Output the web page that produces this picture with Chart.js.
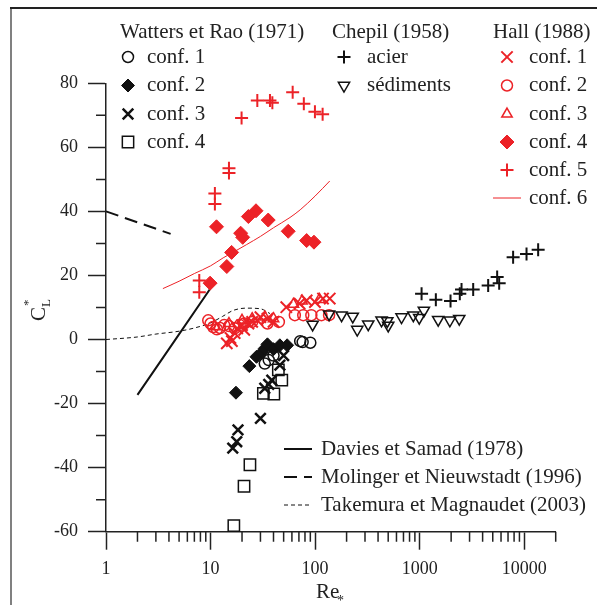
<!DOCTYPE html>
<html>
<head>
<meta charset="utf-8">
<script src="https://cdn.jsdelivr.net/npm/chart.js@4/dist/chart.umd.min.js"></script>
<style>
  body { margin: 0; background: #fff; }
  canvas { display: block; }
</style>
</head>
<body>
<canvas id="chart" width="597" height="605"></canvas>
<script>
// Re* (x) / CL* (y) pairs
const wattersConf1 = [[33, -7.5], [36, -6.4], [40, -5], [72, -0.5], [76, -0.8], [90, -1]];
const wattersConf2 = [[17.5, -16.6], [23.5, -8.3], [27.5, -5.4], [31, -4], [33, -2.8], [35, -1.5], [40, -3], [46, -1.8], [54, -1.8]];
const wattersConf3 = [[16.3, -33.9], [17.8, -31.9], [18.3, -28.2], [30, -24.6], [33, -15.2], [36, -14], [38.5, -12.7], [46, -8], [50, -5]];
const wattersConf4 = [[16.7, -58.1], [20.9, -45.8], [23.8, -39.1], [32, -16.8], [40.3, -17], [44.5, -9.5], [48, -12.7]];

const chepilAcier = [[1043, 14.3], [1428, 12.4], [1973, 12], [2420, 14.3], [2514, 15.6], [3250, 15.6], [4520, 16.9], [5510, 19.5], [5760, 17.6], [7830, 25.7], [10520, 26.7], [13590, 28]];
const chepilSediments = [[94.6, 4.7], [136, 7.9], [179, 7.6], [229, 7.2], [253, 3.1], [322, 4.8], [432, 6], [490, 5.8], [500, 4.4], [671, 7], [869, 7.6], [990, 6.8], [1097, 9.1], [1503, 6.2], [1945, 6], [2390, 6.5]];

const hallConf1 = [[14.3, -1.2], [15.5, 0.5], [16, -0.5], [17, 2], [18, 3.5], [20, 4.5], [21, 3], [23, 5], [25, 5.5], [28, 6], [30, 7], [35, 6.5], [40, 5.5], [53, 10.1], [71, 11.2], [83, 12.2], [99.6, 11.7], [119, 12.8], [138, 12.8]];
const hallConf2 = [[9.5, 6], [10, 5], [10.6, 3.9], [11.5, 3.2], [12.3, 3.6], [13.5, 4.5], [15, 4.2], [17, 3.5], [19, 4.5], [21, 5], [25, 5.5], [35, 5], [45, 5.5], [64, 7.6], [77, 7.6], [92, 7.6], [115, 7.6], [136, 7.6]];
const hallConf3 = [[11, 4], [15, 5], [20, 6], [25, 6.5], [33, 7], [40, 6.5], [62, 11], [75, 12], [110, 12.5]];
const hallConf4 = [[9.9, 17.6], [11.4, 35.2], [14.3, 22.8], [15.9, 27.2], [19.4, 33.2], [20.3, 31.9], [23, 38.4], [27.2, 40.2], [35.6, 37.3], [55.3, 33.8], [83, 30.9], [97.5, 30.4]];
const hallConf5 = [[7.8, 18.4], [7.8, 14.8], [11, 45.6], [11, 42.3], [15, 53.5], [15, 52], [19.8, 69.2], [28, 74.6], [37, 74.6], [39, 73.9], [61, 77.2], [78, 73.6], [99.6, 71.1], [118, 70.3]];
const hallConf6 = [[3.5, 15.9], [5, 18.2], [7, 20.6], [10, 23], [13.2, 25.5], [17, 27.5], [22, 29.6], [30, 32.2], [40, 34.9], [57.5, 38.1], [72, 40.5], [100, 44.8], [138, 49.5]];

const daviesSamad = [[2, -17.3], [10, 16]];
const molingerNieuwstadt = [[1, 40], [4.15, 33]];
const takemuraMagnaudet = [[1, 0], [2, 0.8], [3, 1.7], [5, 2.6], [7, 3.6], [10, 5.2], [13, 7.2], [16.5, 9.1], [22, 9.8], [30, 9.6], [37, 8.1]];

const xMajorTicks = [1, 10, 100, 1000, 10000];
const yMajorTicks = [-60, -40, -20, 0, 20, 40, 60, 80];
const yMinorTicks = [-50, -30, -10, 10, 30, 50, 70];

const RED = '#ec2227';
const INK = '#111';
const FONT = '"Liberation Serif", "Times New Roman", serif';

const pts = arr => arr.map(p => ({ x: p[0], y: p[1] }));

const mark = (label, data, style, color, radius, bw, filled, rotation) => ({
    label, data: pts(data), pointStyle: style, pointRadius: radius, pointHoverRadius: radius,
    pointRotation: rotation || 0, pointBorderWidth: bw, borderColor: color,
    pointBorderColor: color, pointBackgroundColor: filled ? color : 'rgba(0,0,0,0)',
    showLine: false, clip: false
});

const curve = (label, data, color, width, dash) => ({
    label, data: pts(data), borderColor: color, borderWidth: width, borderDash: dash || [],
    pointRadius: 0, pointHoverRadius: 0, showLine: true, cubicInterpolationMode: 'monotone', clip: false
});

const datasets = [
    mark('W conf. 1', wattersConf1, 'circle', INK, 5.5, 1.5, false),
    mark('W conf. 2', wattersConf2, 'rectRot', INK, 6.5, 1, true),
    mark('W conf. 3', wattersConf3, 'crossRot', INK, 7.5, 2.5, false),
    mark('W conf. 4', wattersConf4, 'rect', INK, 8, 1.5, false),
    mark('acier', chepilAcier, 'cross', INK, 6.5, 2, false),
    mark('sédiments', chepilSediments, 'triangle', INK, 6.5, 1.5, false, 180),
    mark('H conf. 1', hallConf1, 'crossRot', RED, 8, 2, false),
    mark('H conf. 2', hallConf2, 'circle', RED, 5.5, 1.5, false),
    mark('H conf. 3', hallConf3, 'triangle', RED, 6, 1.5, false),
    mark('H conf. 4', hallConf4, 'rectRot', RED, 7, 1, true),
    mark('H conf. 5', hallConf5, 'cross', RED, 6.5, 2, false),
    curve('H conf. 6', hallConf6, RED, 1),
    curve('Davies et Samad (1978)', daviesSamad, INK, 2),
    curve('Molinger et Nieuwstadt (1996)', molingerNieuwstadt, INK, 2, [13, 7]),
    curve('Takemura et Magnaudet (2003)', takemuraMagnaudet, INK, 1, [4, 3])
];

// legend groups (symbol style copied from the datasets)
const legendGroups = [
    { title: 'Watters et Rao (1971)', x: 120, symX: 128, textX: 147,
      items: [['conf. 1', 0], ['conf. 2', 1], ['conf. 3', 2], ['conf. 4', 3]] },
    { title: 'Chepil (1958)', x: 332, symX: 344, textX: 367,
      items: [['acier', 4], ['sédiments', 5]] },
    { title: 'Hall (1988)', x: 493, symX: 507, textX: 529,
      items: [['conf. 1', 6], ['conf. 2', 7], ['conf. 3', 8], ['conf. 4', 9], ['conf. 5', 10], ['conf. 6', 11]] }
];
const legendRows = [57, 85.5, 114, 142, 170, 198];
const lineLegend = [[12, 449], [13, 477], [14, 505]];

const decorPlugin = {
    id: 'decor',
    beforeDraw(chart) {
        const ctx = chart.ctx;
        ctx.save();
        ctx.lineWidth = 2;
        ctx.strokeStyle = '#808080';
        ctx.beginPath(); ctx.moveTo(11, 8); ctx.lineTo(11, 605); ctx.stroke();
        ctx.strokeStyle = '#222';
        ctx.beginPath(); ctx.moveTo(10, 8); ctx.lineTo(597, 8); ctx.stroke();
        ctx.restore();
    },
    afterDraw(chart) {
        const ctx = chart.ctx;
        const xs = chart.scales.x, ys = chart.scales.y;
        const area = chart.chartArea;
        ctx.save();
        // minor ticks
        ctx.strokeStyle = '#222';
        ctx.lineWidth = 1.5;
        ctx.beginPath();
        for (let d = 1; d <= 10000; d *= 10) {
            for (let m = 2; m <= 9; m++) {
                const v = d * m;
                if (v > 20000) break;
                const px = xs.getPixelForValue(v);
                ctx.moveTo(px, area.bottom); ctx.lineTo(px, area.bottom + 10);
            }
        }
        yMinorTicks.forEach(v => {
            const py = ys.getPixelForValue(v);
            ctx.moveTo(area.left - 10, py); ctx.lineTo(area.left, py);
        });
        ctx.stroke();

        // axis titles
        ctx.fillStyle = '#222';
        ctx.textBaseline = 'alphabetic';
        ctx.textAlign = 'left';
        ctx.font = '21px ' + FONT;
        ctx.fillText('Re', 316, 598);
        ctx.font = '14px ' + FONT;
        ctx.fillText('*', 337, 605);

        ctx.save();
        ctx.translate(45, 321);
        ctx.rotate(-Math.PI / 2);
        ctx.font = '21px ' + FONT;
        ctx.fillText('C', 0, 0);
        ctx.font = '13px ' + FONT;
        ctx.fillText('L', 14, 5);
        ctx.fillText('*', 15, -13);
        ctx.restore();

        // legend
        ctx.font = '21px ' + FONT;
        ctx.textBaseline = 'middle';
        legendGroups.forEach(g => {
            ctx.fillStyle = '#222';
            ctx.fillText(g.title, g.x, 32);
            g.items.forEach((it, i) => {
                const y = legendRows[i];
                drawSymbol(ctx, datasets[it[1]], g.symX, y, g.x);
                ctx.fillStyle = '#222';
                ctx.fillText(it[0], g.textX, y);
            });
        });
        lineLegend.forEach(([idx, y]) => {
            drawSymbol(ctx, datasets[idx], 298, y, 284);
            ctx.fillStyle = '#222';
            ctx.fillText(datasets[idx].label, 321, y);
        });
        ctx.restore();
    }
};

function drawSymbol(ctx, ds, x, y, lineStart) {
    ctx.save();
    if (ds.showLine) {
        ctx.strokeStyle = ds.borderColor;
        ctx.lineWidth = ds.borderWidth;
        ctx.setLineDash(ds.borderDash);
        ctx.beginPath();
        ctx.moveTo(lineStart, y);
        ctx.lineTo(lineStart + 28, y);
        ctx.stroke();
    } else {
        ctx.strokeStyle = ds.pointBorderColor;
        ctx.fillStyle = ds.pointBackgroundColor;
        ctx.lineWidth = ds.pointBorderWidth;
        Chart.helpers.drawPoint(ctx, {
            pointStyle: ds.pointStyle, radius: ds.pointRadius,
            rotation: ds.pointRotation, borderWidth: ds.pointBorderWidth
        }, x, y);
    }
    ctx.restore();
}

new Chart(document.getElementById('chart'), {
    type: 'scatter',
    data: { datasets },
    options: {
        responsive: false,
        animation: false,
        devicePixelRatio: 1,
        layout: { padding: { top: 83.3, right: 41.3, bottom: 0, left: 0 } },
        plugins: { legend: { display: false }, tooltip: { enabled: false } },
        scales: {
            x: {
                type: 'logarithmic',
                min: 1,
                max: 20000,
                afterBuildTicks: s => { s.ticks = xMajorTicks.map(v => ({ value: v })); },
                afterFit: s => { s.height = 73.3; },
                grid: { drawOnChartArea: false, tickLength: 18, tickWidth: 1.5, tickColor: '#222' },
                border: { display: true, color: '#222', width: 1.5 },
                ticks: {
                    color: '#222', padding: 9, maxRotation: 0, autoSkip: false,
                    font: { family: FONT, size: 18 },
                    callback: v => String(v)
                }
            },
            y: {
                min: -60,
                max: 80,
                afterBuildTicks: s => { s.ticks = yMajorTicks.map(v => ({ value: v })); },
                afterFit: s => { s.width = 106; },
                grid: { drawOnChartArea: false, tickLength: 18, tickWidth: 1.5, tickColor: '#222' },
                border: { display: true, color: '#222', width: 1.5 },
                ticks: {
                    color: '#222', padding: 10, autoSkip: false,
                    font: { family: FONT, size: 18 },
                    callback: v => String(v)
                }
            }
        }
    },
    plugins: [decorPlugin]
});
</script>
</body>
</html>
